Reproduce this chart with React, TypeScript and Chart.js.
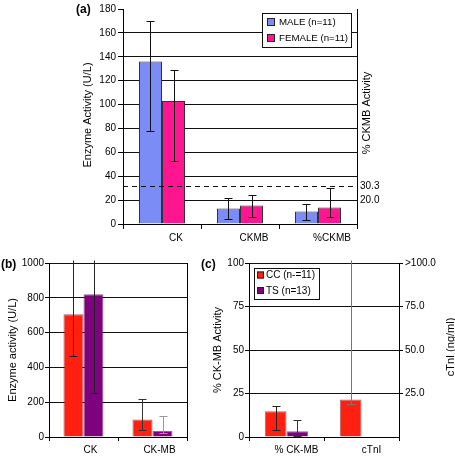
import React, { useEffect, useRef } from "react";
import { Chart, registerables } from "chart.js";

Chart.register(...registerables);

const FONT = '"Liberation Sans", Arial, Helvetica, sans-serif';
Chart.defaults.font.family = FONT;
Chart.defaults.color = "#000";

// ---------- Panel (a) data ----------
const aCategories = ["CK", "CKMB", "%CKMB"];
const aSeriesLabels = ["MALE (n=11)", "FEMALE (n=11)"];
const aMale = [136, 13, 10.5];
const aMaleLow = [78, 4, 3.3];
const aMaleHigh = [170, 21.7, 17];
const aFemale = [103, 15.5, 13.8];
const aFemaleLow = [53, 6, 6];
const aFemaleHigh = [128.8, 24.5, 30];
const aLeftTicks = { min: 0, max: 180, step: 20 };
const aRightTickValues = [20, 32];
const aRightTickLabels = ["20.0", "30.3"];
const aDashedValue = 32;

// ---------- Panel (b) data ----------
const bCategories = ["CK", "CK-MB"];
const bSeriesLabels = ["CC (n-=11)", "TS (n=13)"];
const bCC = [705, 100];
const bCCLow = [467, 39];
const bCCHigh = [1020, 221];
const bTS = [820, 35];
const bTSLow = [254, 23];
const bTSHigh = [1020, 123];
const bLeftTicks = { min: 0, max: 1000, step: 200 };

// ---------- Panel (c) data ----------
const cCategories = ["% CK-MB", "cTnI"];
const cCC = [14.8, 21.5];
const cCCLow = [3.9, 19];
const cCCHigh = [17.7, 102];
const cTS = [3.3, null];
const cTSLow = [0.5, null];
const cTSHigh = [10, null];
const cLeftTicks = { min: 0, max: 100, step: 25 };
const cRightTickValues = [25, 50, 75, 100];
const cRightTickLabels = ["25.0", "50.0", "75.0", ">100.0"];

// ---------- Styles ----------
const MALE = "#7b8cf7";
const FEMALE = "#ff1590";
const RED = "#ff2012";
const PURPLE = "#7e027e";
const GRID = "#111";

// error bars plugin
const errorBarPlugin = {
  id: "errbars",
  afterDatasetsDraw(chart: any) {
    const ctx = chart.ctx;
    const yScale = chart.scales.y;
    chart.data.datasets.forEach((ds: any, i: number) => {
      if (!ds.errLow) return;
      const meta = chart.getDatasetMeta(i);
      meta.data.forEach((bar: any, j: number) => {
        const v = ds.data[j];
        if (v === null || v === undefined) return;
        const lo = ds.errLow[j];
        const hi = ds.errHigh[j];
        const x = Math.round(bar.x) + 0.5;
        const yLo = Math.round(yScale.getPixelForValue(lo)) + 0.5;
        const yHi = Math.round(yScale.getPixelForValue(hi)) + 0.5;
        ctx.save();
        ctx.strokeStyle = (ds.errColor && ds.errColor[j]) || "#111";
        ctx.lineWidth = 1;
        ctx.beginPath();
        ctx.moveTo(x, yLo);
        ctx.lineTo(x, yHi);
        const cap = 4;
        if (lo >= yScale.min) {
          ctx.moveTo(x - cap, yLo);
          ctx.lineTo(x + cap, yLo);
        }
        if (hi <= yScale.max) {
          ctx.moveTo(x - cap, yHi);
          ctx.lineTo(x + cap, yHi);
        }
        ctx.stroke();
        ctx.restore();
      });
    });
  },
};

// decorations plugin: dashed line, boxed legend, free texts
const decorPlugin = {
  id: "decor",
  afterDatasetsDraw(chart: any, _args: any, opts: any) {
    const ctx = chart.ctx;
    const area = chart.chartArea;
    if (opts.dashed) {
      const y = Math.round(chart.scales.y.getPixelForValue(opts.dashed.value)) + 0.5;
      ctx.save();
      ctx.strokeStyle = "#111";
      ctx.lineWidth = 1;
      ctx.setLineDash([5, 4]);
      ctx.beginPath();
      ctx.moveTo(area.left, y);
      ctx.lineTo(area.right, y);
      ctx.stroke();
      ctx.restore();
    }
    if (opts.legend) {
      const L = opts.legend;
      ctx.save();
      ctx.fillStyle = "#fff";
      ctx.fillRect(L.x, L.y, L.w, L.h);
      ctx.strokeStyle = "#111";
      ctx.lineWidth = 1;
      ctx.strokeRect(L.x + 0.5, L.y + 0.5, L.w, L.h);
      ctx.font = `${L.fontSize}px ${FONT}`;
      ctx.textBaseline = "middle";
      ctx.textAlign = "left";
      chart.data.datasets.forEach((ds: any, i: number) => {
        const cy = L.rowY[i];
        ctx.fillStyle = ds.backgroundColor;
        ctx.fillRect(L.boxX, cy - L.box / 2, L.box, L.box);
        ctx.strokeStyle = "#222";
        ctx.strokeRect(L.boxX + 0.5, cy - L.box / 2 + 0.5, L.box - 1, L.box - 1);
        ctx.fillStyle = "#000";
        ctx.fillText(ds.label, L.textX, cy + 0.5);
      });
      ctx.restore();
    }
    (opts.texts || []).forEach((t: any) => {
      ctx.save();
      ctx.fillStyle = "#000";
      ctx.font = `${t.bold ? "bold " : ""}${t.size}px ${FONT}`;
      ctx.textAlign = t.align || "center";
      ctx.textBaseline = "middle";
      ctx.translate(t.x, t.y);
      if (t.rotate) ctx.rotate(t.rotate);
      ctx.fillText(t.text, 0, 0);
      ctx.restore();
    });
  },
};

const UP = -Math.PI / 2;
const plain = (v: any) => String(v);

function leftGridColor(hideTop: boolean, max: number) {
  return (c: any) => {
    if (!c.tick) return GRID;
    if (c.tick.value === 0) return "rgba(0,0,0,0)";
    if (hideTop && c.tick.value === max) return "rgba(0,0,0,0)";
    return GRID;
  };
}

function makeConfigA(): any {
  return {
    type: "bar",
    data: {
      labels: aCategories,
      datasets: [
        { label: aSeriesLabels[0], data: aMale, backgroundColor: MALE, borderColor: "#333", borderWidth: 1, errLow: aMaleLow, errHigh: aMaleHigh },
        { label: aSeriesLabels[1], data: aFemale, backgroundColor: FEMALE, borderColor: "#333", borderWidth: 1, errLow: aFemaleLow, errHigh: aFemaleHigh },
      ],
    },
    options: {
      responsive: false,
      animation: false,
      layout: { padding: { top: 6, left: 0, right: 0, bottom: 0 } },
      datasets: { bar: { categoryPercentage: 0.59, barPercentage: 1 } },
      plugins: {
        legend: { display: false },
        tooltip: { enabled: false },
        decor: {
          dashed: { value: aDashedValue },
          legend: { x: 262, y: 13, w: 89, h: 34, rowY: [22, 38], boxX: 267, box: 8, textX: 279, fontSize: 9.7 },
          texts: [
            { text: "(a)", x: 76, y: 10, size: 12, bold: true, align: "left" },
            { text: "Enzyme Activity (U/L)", x: 88, y: 115, size: 11, rotate: UP },
            { text: "% CKMB Activity", x: 367, y: 113, size: 11, rotate: UP },
          ],
        },
      },
      scales: {
        x: {
          grid: { display: true, drawOnChartArea: false, drawTicks: true, tickLength: 5, color: "#000", offset: true },
          border: { display: true, color: "#000" },
          ticks: { font: { size: 10 }, color: "#000", padding: 3, labelOffset: 14, maxRotation: 0, autoSkip: false },
          afterFit: (s: any) => { s.height = 26; },
        },
        y: {
          position: "left",
          min: aLeftTicks.min,
          max: aLeftTicks.max,
          ticks: { stepSize: aLeftTicks.step, font: { size: 10 }, color: "#000", padding: 2, callback: plain },
          grid: { color: leftGridColor(true, aLeftTicks.max), tickColor: "#000", tickLength: 5 },
          border: { display: true, color: "#000" },
          afterFit: (s: any) => { s.width = 123; },
        },
        y2: {
          type: "linear",
          position: "right",
          min: aLeftTicks.min,
          max: aLeftTicks.max,
          afterBuildTicks: (s: any) => { s.ticks = aRightTickValues.map((v) => ({ value: v })); },
          ticks: {
            font: { size: 10 },
            color: "#000",
            padding: 3,
            callback: (v: any) => { const i = aRightTickValues.indexOf(v); return i >= 0 ? aRightTickLabels[i] : ""; },
          },
          grid: { display: false, drawTicks: false },
          border: { display: true, color: "#000" },
          afterFit: (s: any) => { s.width = 98; },
        },
      },
    },
    plugins: [errorBarPlugin, decorPlugin],
  };
}

function makeConfigB(): any {
  return {
    type: "bar",
    data: {
      labels: bCategories,
      datasets: [
        { label: bSeriesLabels[0], data: bCC, backgroundColor: RED, borderColor: "rgba(90,0,0,0.6)", borderWidth: 1, errLow: bCCLow, errHigh: bCCHigh, errColor: ["#222", "#333"] },
        { label: bSeriesLabels[1], data: bTS, backgroundColor: PURPLE, borderColor: "rgba(60,0,60,0.6)", borderWidth: 1, errLow: bTSLow, errHigh: bTSHigh, errColor: ["#222", "#999"] },
      ],
    },
    options: {
      responsive: false,
      animation: false,
      layout: { padding: { top: 13, left: 0, right: 0, bottom: 0 } },
      datasets: { bar: { categoryPercentage: 0.58, barPercentage: 1 } },
      plugins: {
        legend: { display: false },
        tooltip: { enabled: false },
        decor: {
          texts: [
            { text: "(b)", x: 1, y: 15, size: 12, bold: true, align: "left" },
            { text: "Enzyme activity (U/L)", x: 12.5, y: 100, size: 11, rotate: UP },
          ],
        },
      },
      scales: {
        x: {
          grid: { display: true, drawOnChartArea: false, drawTicks: true, tickLength: 4, color: "#000", offset: true },
          border: { display: true, color: "#000" },
          ticks: { font: { size: 10 }, color: "#000", padding: 3, labelOffset: 7, maxRotation: 0, autoSkip: false },
          afterFit: (s: any) => { s.height = 19; },
        },
        y: {
          position: "left",
          min: bLeftTicks.min,
          max: bLeftTicks.max,
          ticks: { stepSize: bLeftTicks.step, font: { size: 10 }, color: "#000", padding: 1, callback: plain },
          grid: { color: leftGridColor(false, bLeftTicks.max), tickColor: "#000", tickLength: 4 },
          border: { display: true, color: "#000" },
          afterFit: (s: any) => { s.width = 49; },
        },
        y2: {
          type: "linear",
          position: "right",
          min: bLeftTicks.min,
          max: bLeftTicks.max,
          ticks: { display: false },
          grid: { display: false, drawTicks: false },
          border: { display: true, color: "#000" },
          afterFit: (s: any) => { s.width = 13; },
        },
      },
    },
    plugins: [errorBarPlugin, decorPlugin],
  };
}

function makeConfigC(): any {
  return {
    type: "bar",
    data: {
      labels: cCategories,
      datasets: [
        { label: bSeriesLabels[0], data: cCC, backgroundColor: RED, borderColor: "rgba(90,0,0,0.6)", borderWidth: 1, errLow: cCCLow, errHigh: cCCHigh, errColor: ["#222", "#777"] },
        { label: bSeriesLabels[1], data: cTS, backgroundColor: PURPLE, borderColor: "rgba(60,0,60,0.6)", borderWidth: 1, errLow: cTSLow, errHigh: cTSHigh, errColor: ["#333", "#333"] },
      ],
    },
    options: {
      responsive: false,
      animation: false,
      layout: { padding: { top: 13, left: 0, right: 0, bottom: 0 } },
      datasets: { bar: { categoryPercentage: 0.58, barPercentage: 1 } },
      plugins: {
        legend: { display: false },
        tooltip: { enabled: false },
        decor: {
          legend: { x: 54, y: 18, w: 65, h: 31, rowY: [25, 40.5], boxX: 57, box: 7, textX: 66, fontSize: 10 },
          texts: [
            { text: "(c)", x: 1, y: 15, size: 12, bold: true, align: "left" },
            { text: "% CK-MB Activity", x: 17.5, y: 100, size: 11, rotate: UP },
            { text: "cTnI (ng/ml)", x: 251, y: 97, size: 11, rotate: UP },
          ],
        },
      },
      scales: {
        x: {
          grid: { display: true, drawOnChartArea: false, drawTicks: true, tickLength: 4, color: "#000", offset: true },
          border: { display: true, color: "#000" },
          ticks: { font: { size: 10 }, color: "#000", padding: 3, labelOffset: 10, maxRotation: 0, autoSkip: false },
          afterFit: (s: any) => { s.height = 19; },
        },
        y: {
          position: "left",
          min: cLeftTicks.min,
          max: cLeftTicks.max,
          ticks: { stepSize: cLeftTicks.step, font: { size: 10 }, color: "#000", padding: 1, callback: plain },
          grid: { color: leftGridColor(false, cLeftTicks.max), tickColor: "#000", tickLength: 4 },
          border: { display: true, color: "#000" },
          afterFit: (s: any) => { s.width = 49; },
        },
        y2: {
          type: "linear",
          position: "right",
          min: cLeftTicks.min,
          max: cLeftTicks.max,
          afterBuildTicks: (s: any) => { s.ticks = cRightTickValues.map((v) => ({ value: v })); },
          ticks: {
            font: { size: 10 },
            color: "#000",
            padding: 2,
            callback: (v: any) => { const i = cRightTickValues.indexOf(v); return i >= 0 ? cRightTickLabels[i] : ""; },
          },
          grid: { display: true, drawOnChartArea: false, drawTicks: true, tickLength: 4, color: "#000" },
          border: { display: true, color: "#000" },
          afterFit: (s: any) => { s.width = 56; },
        },
      },
    },
    plugins: [errorBarPlugin, decorPlugin],
  };
}

function Panel(props: { left: number; top: number; width: number; height: number; make: () => any }) {
  const ref = useRef<HTMLCanvasElement | null>(null);
  useEffect(() => {
    if (!ref.current) return;
    const chart = new Chart(ref.current, props.make());
    return () => chart.destroy();
  }, []);
  return (
    <canvas
      ref={ref}
      width={props.width}
      height={props.height}
      style={{ position: "absolute", left: props.left, top: props.top, width: props.width, height: props.height }}
    />
  );
}

export default function App() {
  return (
    <div style={{ position: "absolute", left: 0, top: 0, width: 455, height: 456, background: "#fff" }}>
      <Panel left={0} top={0} width={455} height={250} make={makeConfigA} />
      <Panel left={0} top={250} width={200} height={206} make={makeConfigB} />
      <Panel left={200} top={250} width={255} height={206} make={makeConfigC} />
    </div>
  );
}
